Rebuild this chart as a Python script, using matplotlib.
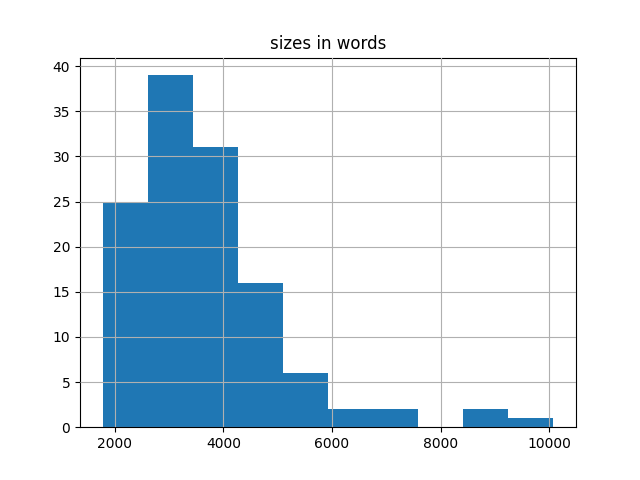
import matplotlib
matplotlib.use("Agg")
import matplotlib.pyplot as plt
import numpy as np

# histogram: 10 equal bins between min and max
size_min = 1773
size_max = 10079
counts = [25, 39, 31, 16, 6, 2, 2, 0, 2, 1]

edges = np.linspace(size_min, size_max, len(counts) + 1)
centers = (edges[:-1] + edges[1:]) / 2

fig, ax = plt.subplots(figsize=(6.4, 4.8), dpi=100)
ax.hist(centers, bins=edges, weights=counts, color="#1f77b4")
ax.grid(True)
ax.set_axisbelow(False)
ax.set_title("sizes in words")
fig.savefig("out.png")
